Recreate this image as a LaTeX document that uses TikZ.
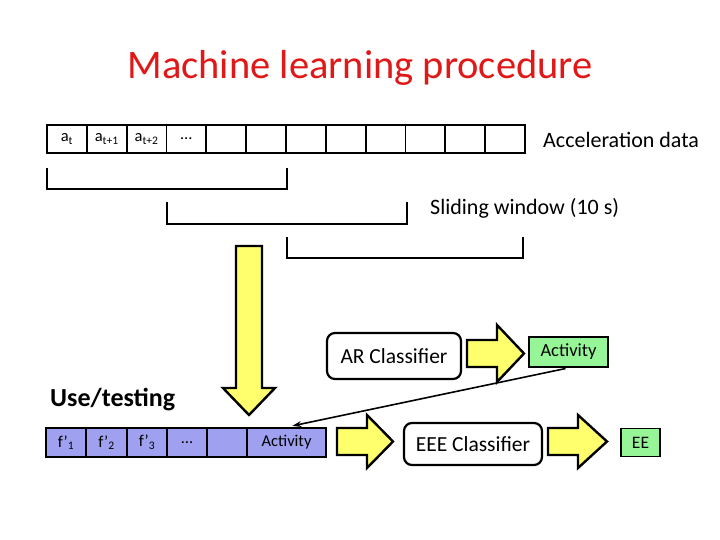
\documentclass[tikz,border=0pt]{standalone}
\usepackage{fontspec}
\setmainfont{Carlito}
\usetikzlibrary{arrows.meta}
\definecolor{ttl}{RGB}{224,24,24}
\definecolor{yel}{RGB}{255,255,110}
\definecolor{grn}{RGB}{150,245,150}
\definecolor{lav}{RGB}{160,160,240}
\begin{document}
\begin{tikzpicture}[x=1pt,y=-1pt,
  cell/.style={draw, line width=1.8pt, minimum height=28pt, minimum width=39.8pt, inner sep=0pt, font=\fontsize{16.5}{18}\selectfont},
  lcell/.style={cell, fill=lav, minimum height=29pt},
  bracket/.style={line width=2.6pt, line join=miter},
  yarrow/.style={draw, fill=yel, line width=2.4pt, line join=miter},
  clsbox/.style={draw, line width=2.2pt, rounded corners=8pt, inner sep=0pt, font=\fontsize{21.5}{24}\selectfont},
  gbox/.style={draw, fill=grn, line width=1.8pt, inner sep=0pt},
  lbl/.style={inner sep=0pt, font=\fontsize{22}{24}\selectfont}]
\useasboundingbox (0,0) rectangle (720,540);
% title
\node[inner sep=0pt, text=ttl, font=\fontsize{40.5}{44}\selectfont] (title) at (360,68) {Machine learning procedure};
% top row cells
\foreach \i/\t in {1/{a\textsubscript{t}},2/{a\textsubscript{t+1}},3/{a\textsubscript{t+2}},4/{\dots},5/{},6/{},7/{},8/{},9/{},10/{},11/{},12/{}}{
  \node[cell] (c\i) at ({47+39.83*(\i-0.5)},139) {\t};
}
\node[lbl, anchor=west] (acc) at (543,140) {Acceleration data};
% sliding windows
\draw[bracket] (47,168) -- (47,189) -- (287,189) -- (287,168);
\draw[bracket] (167,202) -- (167,224) -- (407,224) -- (407,202);
\draw[bracket] (287,237) -- (287,258) -- (523,258) -- (523,237);
\node[lbl, anchor=west] (slide) at (430,208) {Sliding window (10 s)};
% down arrow
\draw[yarrow] (236,246) -- (262,246) -- (262,388) -- (275,388) -- (249,415) -- (223,388) -- (236,388) -- cycle;
% AR classifier
\node[clsbox, minimum width=134pt, minimum height=46pt] (ar) at (394,356) {AR Classifier};
\draw[yarrow] (467,340) -- (497,340) -- (497,325) -- (524,353.5) -- (497,382) -- (497,367) -- (467,367) -- cycle;
\node[gbox, minimum width=79pt, minimum height=30pt, font=\fontsize{18.5}{20}\selectfont] (act) at (568.5,352) {Activity};
% use/testing
\node[inner sep=0pt, anchor=west, font=\fontsize{26}{30}\selectfont\bfseries] (use) at (50,400) {Use/testing};
% bottom row
\node[lcell, minimum width=40pt] (b1) at (66,442.5) {f’\textsubscript{1}};
\node[lcell, minimum width=41pt] (b2) at (106.5,442.5) {f’\textsubscript{2}};
\node[lcell, minimum width=40pt] (b3) at (147,442.5) {f’\textsubscript{3}};
\node[lcell, minimum width=40pt] (b4) at (187,442.5) {\dots};
\node[lcell, minimum width=40pt] (b5) at (227,442.5) {};
\node[lcell, minimum width=79pt] (b6) at (286.5,442.5) {Activity};
\draw[-{Stealth[length=9pt,width=6pt]}, line width=1.6pt, shorten >=6pt, shorten <=3pt] (act.south) -- (b6.north);
% arrows and EEE
\draw[yarrow] (337,428) -- (367,428) -- (367,415) -- (393,441.5) -- (367,468) -- (367,455) -- (337,455) -- cycle;
\node[clsbox, minimum width=138pt, minimum height=42pt] (eee) at (473,444) {EEE Classifier};
\draw[yarrow] (548,428) -- (578,428) -- (578,415) -- (607,441.5) -- (578,468) -- (578,455) -- (548,455) -- cycle;
\node[gbox, minimum width=39pt, minimum height=28pt, font=\fontsize{17.5}{19}\selectfont] (ee) at (640.5,442.5) {EE};
\end{tikzpicture}
\end{document}
